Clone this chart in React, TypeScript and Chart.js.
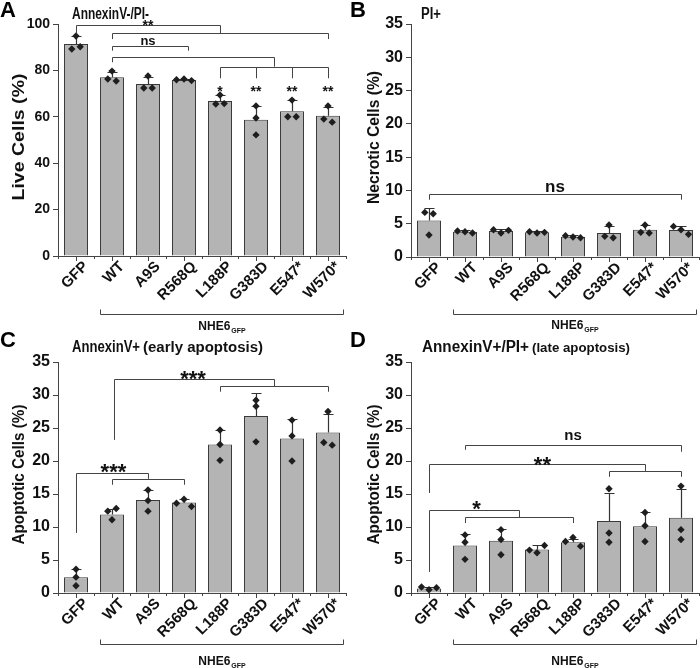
import React, { useEffect, useRef } from 'react';
import { Chart, registerables } from 'chart.js';
Chart.register(...registerables);

const FONT = '"Liberation Sans", Arial, Helvetica, sans-serif';
const LINE = '#444444';

const categories = ['GFP', 'WT', 'A9S', 'R568Q', 'L188P', 'G383D', 'E547*', 'W570*'];
const groupLabel = 'NHE6';
const groupSub = 'GFP';

// ---- Panel A: AnnexinV-/PI- (live cells, %)
const liveMeans = [91.4, 77.1, 74.1, 75.9, 66.8, 58.7, 62.4, 60.5];
const liveSD = [3.4, 2.2, 3.1, 0.3, 2.4, 6.0, 4.8, 3.7];
const liveReps = [[94.8, 89.2, 90.2], [79.7, 76.3, 75.4], [77.6, 72.4, 72.4], [76.0, 76.3, 75.6], [69.4, 65.5, 65.7], [64.7, 59.5, 52.2], [67.2, 60.0, 60.0], [64.7, 59.0, 57.7]];
const liveBrackets = [
  { xs: [0, 4], y: 99.6, drops: [96.0, 96.0] },
  { xs: [1, 7], y: 96.0, drops: [93.5, 93.5] },
  { xs: [1, 3.1], y: 90.6, drops: [88.5, 88.5] },
  { xs: [1, 5.5], y: 85.9, drops: [83.5, 81.6] },
  { xs: [4, 5, 6, 7], y: 81.6, drops: [76.6, 76.6, 76.6, 76.6] },
];
const liveMarks = [
  { text: '**', x: 2, y: 100.9 },
  { text: 'ns', x: 2, y: 92.5 },
  { text: '*', x: 4, y: 72.3 },
  { text: '**', x: 5, y: 72.3 },
  { text: '**', x: 6, y: 72.3 },
  { text: '**', x: 7, y: 72.3 },
];

// ---- Panel B: PI+ (necrotic cells, %)
const necroMeans = [5.5, 3.8, 3.9, 3.7, 3.05, 3.6, 4.1, 4.05];
const necroSD = [1.9, 0.2, 0.3, 0.15, 0.25, 1.1, 0.7, 0.6];
const necroReps = [[6.7, 6.5, 3.3], [3.9, 3.8, 3.6], [4.1, 3.6, 4.0], [3.8, 3.6, 3.7], [3.2, 3.0, 2.9], [4.8, 3.1, 2.9], [4.8, 3.7, 3.6], [4.6, 4.1, 3.4]];
const necroBrackets = [{ xs: [0, 7], y: 9.46, drops: [8.6, 8.6] }];
const necroMarks = [{ text: 'ns', x: 3.5, y: 10.47 }];

// ---- Panel C: AnnexinV+ (early apoptosis, %)
const earlyMeans = [2.4, 11.9, 14.1, 13.7, 22.5, 26.8, 23.4, 24.3];
const earlySD = [1.2, 0.8, 1.5, 0.5, 2.2, 3.5, 2.9, 2.8];
const earlyReps = [[3.6, 2.4, 1.1], [12.4, 12.8, 11.1], [15.6, 14.0, 12.4], [13.6, 14.2, 13.1], [24.7, 22.5, 20.1], [29.2, 28.3, 22.9], [26.2, 23.8, 20.0], [27.5, 22.8, 22.4]];
const earlyBrackets = [
  { xs: [1.06, 5.5], y: 32.4, drops: [23.2, 31.3] },
  { xs: [4, 7], y: 31.3, drops: [30.5, 30.5] },
  { xs: [0, 2], y: 18.2, drops: [9.1, 17.3] },
  { xs: [1, 3], y: 17.3, drops: [16.4, 16.4] },
];
const earlyMarks = [
  { text: '***', x: 3.25, y: 33.3 },
  { text: '***', x: 1.04, y: 19.2 },
];

// ---- Panel D: AnnexinV+/PI+ (late apoptosis, %)
const lateMeans = [0.7, 7.2, 7.9, 6.6, 7.7, 10.9, 10.1, 11.4];
const lateSD = [0.2, 1.8, 1.8, 0.6, 0.5, 4.3, 2.1, 4.3];
const lateReps = [[0.9, 0.5, 0.8], [8.8, 5.1, 7.7], [9.6, 8.1, 5.8], [6.5, 6.1, 7.2], [7.8, 8.4, 7.1], [15.8, 9.1, 7.7], [12.2, 10.2, 7.8], [16.2, 9.6, 8.1]];
const lateBrackets = [
  { xs: [1, 7], y: 22.4, drops: [21.7, 21.4] },
  { xs: [0, 6], y: 19.5, drops: [15.15, 18.5] },
  { xs: [5, 7], y: 18.5, drops: [17.6, 17.6] },
  { xs: [0, 2.5], y: 12.5, drops: [3.2, 11.5] },
  { xs: [1, 4], y: 11.5, drops: [10.6, 10.6] },
];
const lateMarks = [
  { text: 'ns', x: 4, y: 23.7 },
  { text: '**', x: 3.15, y: 20.3 },
  { text: '*', x: 1.32, y: 13.6 },
];

type Panel = any;

const panels: Panel[] = [
  {
    id: 'A', left: 0, top: 0, w: 350, h: 334, area: { l: 58, t: 24, r: 346, b: 256 }, yMax: 100, yStep: 20, tickSize: 14,
    means: liveMeans, sd: liveSD, reps: liveReps, brackets: liveBrackets, marks: liveMarks, starSize: 14, nsSize: 13,
    title: 'AnnexinV-/PI-', titleX: 72, titleBase: 18.5, titleW: 77, sub: '', subX: 0, subW: 0, subSize: 14,
    letterBase: 17, yLabel: 'Live Cells (%)', yLabelX: 20, yLabelLen: 127, groupDy: 58, groupTextDy: 74,
  },
  {
    id: 'B', left: 350, top: 0, w: 350, h: 334, area: { l: 61, t: 24, r: 349, b: 257 }, yMax: 35, yStep: 5, tickSize: 16,
    means: necroMeans, sd: necroSD, reps: necroReps, brackets: necroBrackets, marks: necroMarks, starSize: 20, nsSize: 17,
    title: 'PI+', titleX: 71, titleBase: 18.5, titleW: 20, sub: '', subX: 0, subW: 0, subSize: 14,
    letterBase: 17, yLabel: 'Necrotic Cells (%)', yLabelX: 25, yLabelLen: 133, groupDy: 57, groupTextDy: 72,
  },
  {
    id: 'C', left: 0, top: 330, w: 350, h: 338, area: { l: 58, t: 32, r: 346, b: 263 }, yMax: 35, yStep: 5, tickSize: 16,
    means: earlyMeans, sd: earlySD, reps: earlyReps, brackets: earlyBrackets, marks: earlyMarks, starSize: 22, nsSize: 15,
    title: 'AnnexinV+', titleX: 72, titleBase: 21.7, titleW: 68, sub: '(early apoptosis)', subX: 143, subW: 120, subSize: 14,
    letterBase: 16.7, yLabel: 'Apoptotic Cells (%)', yLabelX: 20, yLabelLen: 140, groupDy: 51, groupTextDy: 72,
  },
  {
    id: 'D', left: 350, top: 330, w: 350, h: 338, area: { l: 61, t: 32, r: 349, b: 263 }, yMax: 35, yStep: 5, tickSize: 16,
    means: lateMeans, sd: lateSD, reps: lateReps, brackets: lateBrackets, marks: lateMarks, starSize: 22, nsSize: 15,
    title: 'AnnexinV+/PI+', titleX: 72, titleBase: 21.7, titleW: 107, sub: '(late apoptosis)', subX: 182, subW: 98, subSize: 13,
    letterBase: 16.7, yLabel: 'Apoptotic Cells (%)', yLabelX: 25, yLabelLen: 140, groupDy: 51, groupTextDy: 72,
  },
];

// horizontal spread (in px) for replicate points that overlap vertically (beeswarm-like)
function spreadOffsets(vals: number[], toPx: (v: number) => number) {
  const parent = vals.map((_, k) => k);
  const find = (k: number): number => (parent[k] === k ? k : (parent[k] = find(parent[k])));
  for (let a = 0; a < vals.length; a++)
    for (let b = a + 1; b < vals.length; b++)
      if (Math.abs(toPx(vals[a]) - toPx(vals[b])) < 5) parent[find(b)] = find(a);
  const offs = vals.map(() => 0);
  const groups: Record<number, number[]> = {};
  vals.forEach((_, k) => { const r = find(k); (groups[r] = groups[r] || []).push(k); });
  Object.values(groups).forEach((g) => {
    const o = g.length === 1 ? [0] : g.length === 2 ? [-4.2, 4.2] : [-7.5, 0, 7.5];
    g.forEach((k, j) => { offs[k] = o[j]; });
  });
  return offs;
}

function drawText(ctx: CanvasRenderingContext2D, text: string, x: number, y: number, size: number, o: any = {}) {
  ctx.save();
  ctx.font = `bold ${size}px ${FONT}`;
  const w = ctx.measureText(text).width;
  const sx = o.target ? o.target / w : 1;
  ctx.translate(x, y);
  if (o.rot) ctx.rotate(o.rot);
  ctx.scale(sx, 1);
  ctx.fillStyle = o.color || '#111';
  ctx.textAlign = o.align || 'left';
  ctx.textBaseline = o.baseline || 'alphabetic';
  ctx.fillText(text, 0, 0);
  ctx.restore();
}

const px = (v: number) => Math.round(v) + 0.5;

function makeAnnot(p: Panel) {
  return {
    id: 'annot' + p.id,
    afterDatasetsDraw(chart: any) {
      const ctx = chart.ctx;
      const xs = chart.scales.x;
      const ys = chart.scales.y;
      ctx.save();
      // error bars (mean + SD)
      ctx.strokeStyle = '#333';
      ctx.lineWidth = 1.2;
      p.means.forEach((m: number, i: number) => {
        const x = px(xs.getPixelForValue(i));
        const y0 = ys.getPixelForValue(m);
        const y1 = px(ys.getPixelForValue(m + p.sd[i]));
        ctx.beginPath();
        ctx.moveTo(x, y0);
        ctx.lineTo(x, y1);
        ctx.moveTo(x - 5, y1);
        ctx.lineTo(x + 5, y1);
        ctx.stroke();
      });
      // replicate points (diamonds)
      ctx.fillStyle = '#1e1e1e';
      const toPx = (v: number) => ys.getPixelForValue(v);
      p.reps.forEach((vals: number[], i: number) => {
        const offs = spreadOffsets(vals, toPx);
        vals.forEach((v, k) => {
          const x = xs.getPixelForValue(i) + offs[k];
          const y = ys.getPixelForValue(v);
          const r = 3.7;
          ctx.beginPath();
          ctx.moveTo(x, y - r);
          ctx.lineTo(x + r, y);
          ctx.lineTo(x, y + r);
          ctx.lineTo(x - r, y);
          ctx.closePath();
          ctx.fill();
        });
      });
      ctx.restore();
    },
    afterDraw(chart: any) {
      const ctx = chart.ctx;
      const xs = chart.scales.x;
      const ys = chart.scales.y;
      const ca = chart.chartArea;
      ctx.save();
      ctx.strokeStyle = LINE;
      ctx.lineWidth = 1;
      // minor ticks between categories
      ctx.beginPath();
      for (let i = 0; i <= categories.length; i++) {
        const x = px(xs.getPixelForValue(i - 0.5));
        ctx.moveTo(x, ca.bottom);
        ctx.lineTo(x, ca.bottom + 3);
      }
      ctx.stroke();
      // significance brackets
      p.brackets.forEach((b: any) => {
        const y = px(ys.getPixelForValue(b.y));
        const x0 = px(xs.getPixelForValue(Math.min(...b.xs)));
        const x1 = px(xs.getPixelForValue(Math.max(...b.xs)));
        ctx.beginPath();
        ctx.moveTo(x0, y);
        ctx.lineTo(x1, y);
        b.xs.forEach((xv: number, k: number) => {
          const x = px(xs.getPixelForValue(xv));
          ctx.moveTo(x, y);
          ctx.lineTo(x, ys.getPixelForValue(b.drops[k]));
        });
        ctx.stroke();
      });
      p.marks.forEach((m: any) => {
        const isStar = m.text.indexOf('*') >= 0;
        const size = isStar ? p.starSize : p.nsSize;
        const cy = ys.getPixelForValue(m.y);
        const base = cy + (isStar ? 0.57 : 0.26) * size;
        drawText(ctx, m.text, xs.getPixelForValue(m.x), base, size, { align: 'center', color: '#111' });
      });
      // group bracket under the axis
      const gy = px(ca.bottom + p.groupDy);
      const gx0 = px(xs.getPixelForValue(0.66));
      const gx1 = px(xs.getPixelForValue(7.41));
      ctx.beginPath();
      ctx.moveTo(gx0, gy - 5);
      ctx.lineTo(gx0, gy);
      ctx.lineTo(gx1, gy);
      ctx.lineTo(gx1, gy - 5);
      ctx.stroke();
      ctx.font = `bold 12px ${FONT}`;
      const wMain = ctx.measureText(groupLabel).width;
      ctx.font = `bold 7px ${FONT}`;
      const wSub = ctx.measureText(groupSub).width;
      const gcx = (gx0 + gx1) / 2;
      const gstart = gcx - (wMain + wSub + 1) / 2;
      const gb = ca.bottom + p.groupTextDy;
      drawText(ctx, groupLabel, gstart, gb, 12);
      drawText(ctx, groupSub, gstart + wMain + 1, gb + 3, 7);
      // panel letter, title, y label
      drawText(ctx, p.id, 0, p.letterBase, 22, { color: '#000' });
      drawText(ctx, p.title, p.titleX, p.titleBase, 16, { target: p.titleW });
      if (p.sub) drawText(ctx, p.sub, p.subX, p.titleBase, p.subSize, { target: p.subW });
      drawText(ctx, p.yLabel, p.yLabelX, (ca.top + ca.bottom) / 2 - 3, 16, {
        rot: -Math.PI / 2, align: 'center', baseline: 'middle', target: p.yLabelLen,
      });
      ctx.restore();
    },
  };
}

function PanelChart({ p }: { p: Panel }) {
  const ref = useRef<HTMLCanvasElement | null>(null);
  useEffect(() => {
    const a = p.area;
    const chart = new Chart(ref.current as HTMLCanvasElement, {
      type: 'bar',
      data: {
        labels: categories,
        datasets: [
          {
            data: p.means, backgroundColor: '#b4b4b4', borderColor: '#3a3a3a', borderWidth: 1,
            barPercentage: 0.667, categoryPercentage: 1, grouped: false,
          },
        ],
      },
      options: {
        responsive: false,
        animation: false,
        devicePixelRatio: 1,
        layout: { padding: { top: a.t, right: p.w - a.r, bottom: 0, left: 0 } },
        plugins: { legend: { display: false }, tooltip: { enabled: false } },
        scales: {
          x: {
            type: 'category', offset: true,
            grid: { display: true, drawOnChartArea: false, offset: false, tickLength: 5, color: LINE, lineWidth: 1 },
            border: { display: true, color: LINE, width: 1 },
            ticks: {
              autoSkip: false, minRotation: 45, maxRotation: 45, padding: -3, labelOffset: 10, color: '#111',
              font: { family: FONT, size: 15, weight: 'bold' },
            },
            afterFit: (s: any) => { s.height = p.h - a.b; },
          },
          y: {
            min: 0, max: p.yMax,
            ticks: { stepSize: p.yStep, padding: 3, color: '#111', font: { family: FONT, size: p.tickSize, weight: 'bold' } },
            grid: { display: true, drawOnChartArea: false, tickLength: 5, color: LINE, lineWidth: 1 },
            border: { display: true, color: LINE, width: 1 },
            afterFit: (s: any) => { s.width = a.l; },
          },
        } as any,
      },
      plugins: [makeAnnot(p)],
    } as any);
    return () => chart.destroy();
  }, [p]);
  return (
    <canvas
      ref={ref}
      width={p.w}
      height={p.h}
      style={{ position: 'absolute', left: p.left, top: p.top, width: p.w, height: p.h }}
    />
  );
}

export default function App() {
  return (
    <div style={{ position: 'absolute', left: 0, top: 0, width: 700, height: 668, background: '#fff', overflow: 'hidden' }}>
      {panels.map((p) => (
        <PanelChart key={p.id} p={p} />
      ))}
    </div>
  );
}
